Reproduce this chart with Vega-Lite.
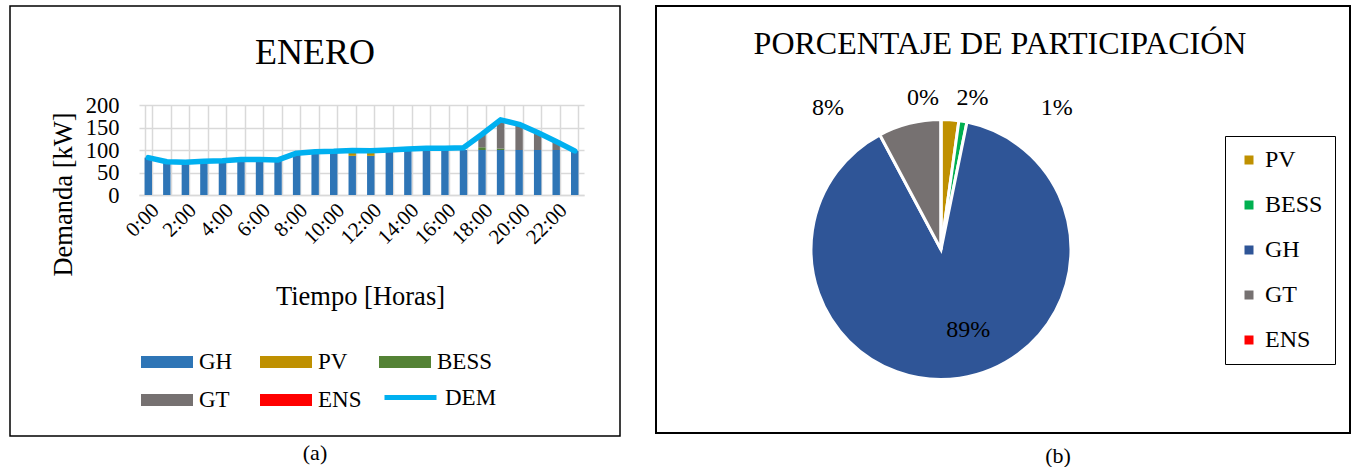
{
  "$schema": "https://vega.github.io/schema/vega-lite/v6.json",
  "padding": {"left": 9, "top": 5, "right": 0, "bottom": 0},
  "background": "white",
  "config": {
    "font": "Liberation Serif",
    "view": {"stroke": "#000000", "strokeWidth": 1.5},
    "title": {"font": "Liberation Serif", "fontWeight": "normal", "color": "#000000"},
    "axis": {"labelFont": "Liberation Serif", "titleFont": "Liberation Serif", "labelColor": "#000000", "titleColor": "#000000", "titleFontWeight": "normal"},
    "legend": {"labelFont": "Liberation Serif", "labelColor": "#000000"}
  },
  "datasets": {
    "barras": [
      {"hora": 0, "fuente": "GH", "valor": 83},
      {"hora": 1, "fuente": "GH", "valor": 74},
      {"hora": 2, "fuente": "GH", "valor": 73},
      {"hora": 3, "fuente": "GH", "valor": 75},
      {"hora": 4, "fuente": "GH", "valor": 76},
      {"hora": 5, "fuente": "GH", "valor": 79},
      {"hora": 6, "fuente": "GH", "valor": 79},
      {"hora": 7, "fuente": "GH", "valor": 78},
      {"hora": 8, "fuente": "GH", "valor": 91},
      {"hora": 9, "fuente": "GH", "valor": 94},
      {"hora": 10, "fuente": "GH", "valor": 95},
      {"hora": 11, "fuente": "GH", "valor": 87},
      {"hora": 11, "fuente": "PV", "valor": 12},
      {"hora": 12, "fuente": "GH", "valor": 87},
      {"hora": 12, "fuente": "PV", "valor": 11.5},
      {"hora": 13, "fuente": "GH", "valor": 99},
      {"hora": 14, "fuente": "GH", "valor": 100},
      {"hora": 15, "fuente": "GH", "valor": 100},
      {"hora": 16, "fuente": "GH", "valor": 100},
      {"hora": 17, "fuente": "GH", "valor": 100},
      {"hora": 18, "fuente": "GH", "valor": 100},
      {"hora": 18, "fuente": "BESS", "valor": 6},
      {"hora": 18, "fuente": "GT", "valor": 29},
      {"hora": 19, "fuente": "GH", "valor": 100},
      {"hora": 19, "fuente": "BESS", "valor": 3},
      {"hora": 19, "fuente": "GT", "valor": 64},
      {"hora": 20, "fuente": "GH", "valor": 100},
      {"hora": 20, "fuente": "GT", "valor": 57},
      {"hora": 21, "fuente": "GH", "valor": 100},
      {"hora": 21, "fuente": "GT", "valor": 39},
      {"hora": 22, "fuente": "GH", "valor": 100},
      {"hora": 22, "fuente": "GT", "valor": 19},
      {"hora": 23, "fuente": "GH", "valor": 98}
    ],
    "demanda": [
      {"hora": 0, "DEM": 83}, {"hora": 1, "DEM": 74}, {"hora": 2, "DEM": 73}, {"hora": 3, "DEM": 75},
      {"hora": 4, "DEM": 76}, {"hora": 5, "DEM": 79}, {"hora": 6, "DEM": 79}, {"hora": 7, "DEM": 78},
      {"hora": 8, "DEM": 93}, {"hora": 9, "DEM": 96}, {"hora": 10, "DEM": 97}, {"hora": 11, "DEM": 99},
      {"hora": 12, "DEM": 98.5}, {"hora": 13, "DEM": 100}, {"hora": 14, "DEM": 102}, {"hora": 15, "DEM": 104},
      {"hora": 16, "DEM": 104}, {"hora": 17, "DEM": 105}, {"hora": 18, "DEM": 135}, {"hora": 19, "DEM": 167},
      {"hora": 20, "DEM": 157}, {"hora": 21, "DEM": 139}, {"hora": 22, "DEM": 119}, {"hora": 23, "DEM": 98}
    ],
    "pie": [
      {"fuente": "PV", "pct": 0.022},
      {"fuente": "BESS", "pct": 0.010},
      {"fuente": "GH", "pct": 0.890},
      {"fuente": "GT", "pct": 0.0779},
      {"fuente": "ENS", "pct": 0.0001}
    ]
  },
  "spacing": 34,
  "resolve": {"scale": {"color": "independent"}, "legend": {"color": "independent"}},
  "hconcat": [
    {
      "title": {"text": "(a)", "orient": "bottom", "anchor": "middle", "frame": "bounds", "fontSize": 22, "offset": 6},
      "vconcat": [
        {
          "width": 610,
          "height": 430,
          "title": {"text": "ENERO", "fontSize": 36, "anchor": "middle", "frame": "group", "baseline": "alphabetic", "offset": 0, "dy": 94},
          "resolve": {"axis": {"x": "independent"}, "scale": {"color": "independent"}, "legend": {"color": "independent"}},
          "layer": [
            {
              "data": {"name": "barras"},
              "transform": [{"calculate": "indexof(['GH','PV','BESS','GT','ENS'], datum.fuente)", "as": "orden"}],
              "mark": {"type": "bar"},
              "encoding": {
                "x": {
                  "field": "hora", "type": "ordinal",
                  "scale": {"range": [129, 574], "paddingInner": 0.6, "paddingOuter": 0.3},
                  "axis": {
                    "orient": "bottom", "offset": -241,
                    "title": "Tiempo [Horas]", "titleFontSize": 26.5, "titleX": 350, "titleY": 101,
                    "titleAlign": "center", "titleBaseline": "middle",
                    "labelAngle": -45, "labelFontSize": 21, "labelOverlap": false, "labelPadding": 4,
                    "labelExpr": "datum.value % 2 == 0 ? datum.value + ':00' : ''",
                    "ticks": false, "domain": true, "domainColor": "#D9D9D9", "domainWidth": 1.5,
                    "grid": false
                  }
                },
                "y": {
                  "field": "valor", "type": "quantitative", "stack": "zero",
                  "scale": {"domain": [0, 200], "range": [189, 99], "nice": false},
                  "axis": {
                    "offset": -129, "title": "Demanda [kW]", "titleFontSize": 26.5,
                    "titleX": -76, "titleY": 188, "titleAngle": -90, "titleAlign": "center", "titleBaseline": "middle",
                    "labelFontSize": 22.5, "values": [0, 50, 100, 150, 200], "labelPadding": 20,
                    "ticks": false, "domain": false, "grid": true, "gridColor": "#D9D9D9", "gridWidth": 1.5
                  }
                },
                "order": {"field": "orden", "type": "quantitative", "sort": "ascending"},
                "color": {
                  "field": "fuente", "type": "nominal",
                  "scale": {
                    "domain": ["GH", "PV", "BESS", "GT", "ENS"],
                    "range": ["#2E75B6", "#BF9000", "#548235", "#767171", "#FF0000"]
                  },
                  "legend": {
                    "orient": "none", "legendX": 131, "legendY": 330, "direction": "horizontal", "columns": 3,
                    "title": null, "labelFontSize": 23, "labelOffset": 6, "columnPadding": 6, "rowPadding": -6,
                    "gridAlign": "all", "symbolSize": 2704, "symbolStrokeWidth": 0,
                    "symbolType": "M-1,-0.23L1,-0.23L1,0.23L-1,0.23Z"
                  }
                }
              }
            },
            {
              "data": {"name": "demanda"},
              "mark": {"type": "line", "strokeWidth": 5.5, "strokeCap": "round", "strokeJoin": "round"},
              "encoding": {
                "x": {
                  "field": "hora", "type": "ordinal",
                  "axis": {
                    "orient": "top", "offset": -99, "title": null, "labels": false, "ticks": false, "domain": false,
                    "grid": true, "gridColor": "#D9D9D9", "gridWidth": 1.5, "tickBand": "extent"
                  }
                },
                "y": {"field": "DEM", "type": "quantitative"},
                "color": {
                  "datum": "DEM", "type": "nominal",
                  "scale": {"domain": ["DEM"], "range": ["#00B0F0"]},
                  "legend": {
                    "orient": "none", "legendX": 372, "legendY": 363, "title": null,
                    "labelFontSize": 23, "labelOffset": 6, "symbolType": "stroke", "symbolSize": 2704,
                    "symbolStrokeWidth": 5
                  }
                }
              }
            }
          ]
        }
      ]
    },
    {
      "title": {"text": "(b)", "orient": "bottom", "anchor": "middle", "frame": "bounds", "fontSize": 22, "offset": 12, "dx": 55},
      "vconcat": [
        {
          "width": 694,
          "height": 427,
          "title": {"text": "PORCENTAJE DE PARTICIPACIÓN", "fontSize": 32, "anchor": "middle", "frame": "group", "baseline": "alphabetic", "offset": 0, "dy": 81, "dx": -3},
          "data": {"name": "pie"},
          "transform": [{"calculate": "indexof(['PV','BESS','GH','GT','ENS'], datum.fuente)", "as": "orden"}],
          "layer": [
            {
              "mark": {"type": "rect", "fill": null, "stroke": "#000000", "strokeWidth": 1.5},
              "encoding": {}
            },
            {
              "mark": {"type": "arc", "outerRadius": 130, "stroke": "white", "strokeWidth": 3, "xOffset": -62, "yOffset": 30},
              "encoding": {
                "theta": {"field": "pct", "type": "quantitative", "stack": true},
                "order": {"field": "orden", "type": "quantitative", "sort": "ascending"},
                "color": {
                  "field": "fuente", "type": "nominal",
                  "scale": {
                    "domain": ["PV", "BESS", "GH", "GT", "ENS"],
                    "range": ["#BF9000", "#00B050", "#2F5597", "#767171", "#FF0000"]
                  },
                  "legend": {
                    "orient": "none", "legendX": 569, "legendY": 130, "direction": "vertical",
                    "title": null, "labelFontSize": 24, "labelOffset": 4, "rowPadding": 21, "padding": 12,
                    "strokeColor": "#000000", "symbolType": "square", "symbolSize": 81, "symbolStrokeWidth": 0
                  }
                }
              }
            },
            {
              "mark": {
                "type": "text", "fontSize": 24, "font": "Liberation Serif", "align": "center", "baseline": "middle",
                "color": "#000000",
                "xOffset": -62, "yOffset": 30,
                "radius": {"expr": "datum.fuente == 'GH' ? 85 : 152"},
                "dx": {"expr": "datum.fuente == 'PV' ? 21 : datum.fuente == 'BESS' ? 90 : datum.fuente == 'GT' ? -76 : datum.fuente == 'ENS' ? -18 : 15"},
                "dy": {"expr": "datum.fuente == 'BESS' ? 8 : datum.fuente == 'GT' ? 6 : datum.fuente == 'GH' ? -4 : 0"}
              },
              "encoding": {
                "theta": {"field": "pct", "type": "quantitative", "stack": true},
                "order": {"field": "orden", "type": "quantitative", "sort": "ascending"},
                "detail": {"field": "fuente", "type": "nominal"},
                "text": {"field": "pct", "type": "quantitative", "format": ".0%"}
              }
            }
          ]
        }
      ]
    }
  ]
}
